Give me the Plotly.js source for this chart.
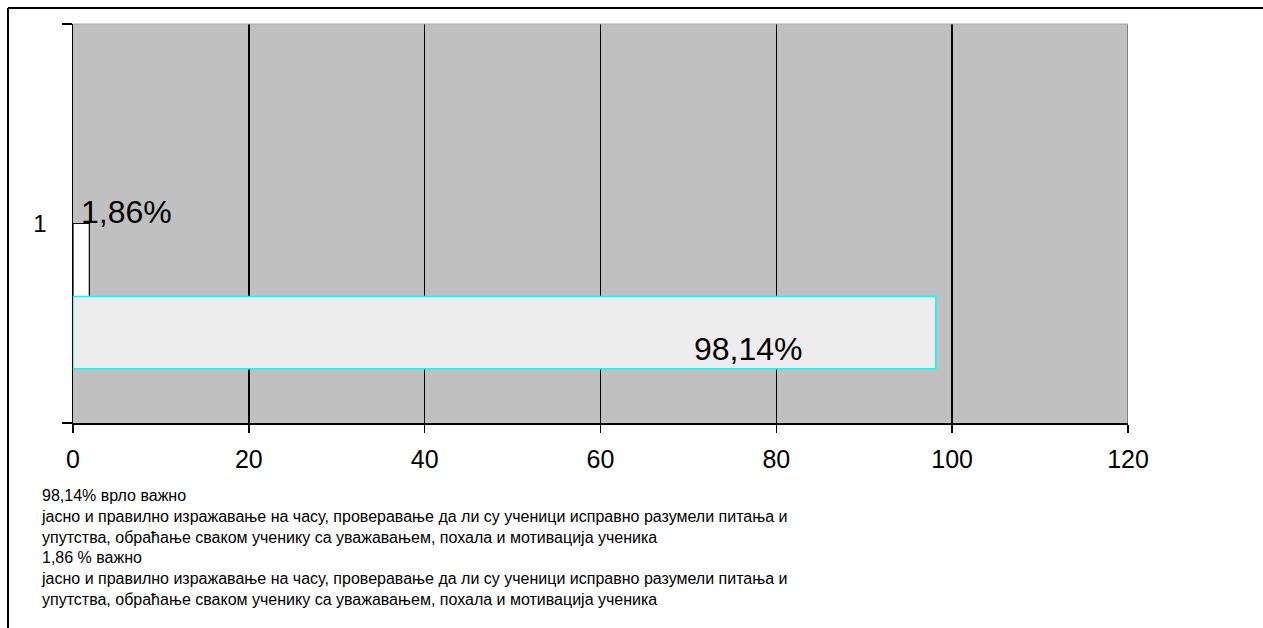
<!DOCTYPE html>
<html>
<head>
<meta charset="utf-8">
<script src="https://cdn.plot.ly/plotly-3.0.1.min.js"></script>
<style>
  html, body { margin: 0; padding: 0; background: #fff; }
  #chart { width: 1263px; height: 628px; }
</style>
</head>
<body>
<div id="chart"></div>
<script>
// ---- data ----
const categories = ["1"];
const seriesNames = ["1,86 % важно", "98,14% врло важно"];
const valuesImportant = [1.86];
const valuesVeryImportant = [98.14];
const valueLabels = ["1,86%", "98,14%"];
const xTickVals = [0, 20, 40, 60, 80, 100, 120];
const legendLines = [
  "98,14% врло важно",
  "јасно и правилно изражавање на часу, проверавање да ли су ученици исправно разумели питања и",
  "упутства, обраћање сваком ученику са уважавањем, похала и мотивација ученика",
  "1,86 % важно",
  "јасно и правилно изражавање на часу, проверавање да ли су ученици исправно разумели питања и",
  "упутства, обраћање сваком ученику са уважавањем, похала и мотивација ученика"
];

const FONT = "Liberation Sans, Arial, sans-serif";

const traces = [
  {
    type: "bar", orientation: "h", name: seriesNames[0],
    y: categories, x: valuesImportant,
    offset: -0.183, width: 0.183,
    marker: { color: "#FFFFFF", line: { color: "#000000", width: 1.2 } },
    hoverinfo: "x"
  },
  {
    type: "bar", orientation: "h", name: seriesNames[1],
    y: categories, x: valuesVeryImportant,
    offset: -0.364, width: 0.181,
    marker: { color: "#EDEDED", line: { color: "#00FFFF", width: 1.5 } },
    hoverinfo: "x"
  }
];

const layout = {
  width: 1263, height: 628,
  margin: { l: 73, r: 135, t: 24, b: 205, pad: 0 },
  paper_bgcolor: "#FFFFFF",
  plot_bgcolor: "#C0C0C0",
  showlegend: false,
  barmode: "overlay",
  font: { family: FONT, color: "#000000" },
  xaxis: {
    range: [0, 120], tickvals: xTickVals, ticktext: xTickVals.map(String),
    showgrid: true, gridcolor: "#000000", gridwidth: 1.5,
    showline: true, linecolor: "#000000", linewidth: 1.5,
    ticks: "outside", ticklen: 8, tickwidth: 1.5, tickcolor: "#000000",
    tickfont: { size: 25, family: FONT, color: "#000000" },
    ticklabelstandoff: 5,
    zeroline: false, fixedrange: true
  },
  yaxis: {
    type: "category", range: [-0.5, 0.5],
    showgrid: false,
    showline: true, linecolor: "#000000", linewidth: 1.5,
    ticks: "outside", ticklen: 10, tickwidth: 1.5, tickcolor: "#000000",
    tickson: "boundaries",
    tickfont: { size: 24, family: FONT, color: "#000000" },
    ticklabelstandoff: 20,
    zeroline: false, fixedrange: true
  },
  annotations: [
    {
      x: valuesImportant[0], y: 0.029, xref: "x", yref: "y",
      text: valueLabels[0], showarrow: false,
      xanchor: "left", yanchor: "middle", xshift: -10,
      font: { size: 32, family: FONT, color: "#000000" }
    },
    {
      x: valuesVeryImportant[0], y: -0.315, xref: "x", yref: "y",
      text: valueLabels[1], showarrow: false,
      xanchor: "right", yanchor: "middle", xshift: -131,
      font: { size: 32, family: FONT, color: "#000000" }
    },
    {
      x: (39 - 73) / 1055, y: (423 - 485) / 399, xref: "paper", yref: "paper",
      text: legendLines.join("<br>"), showarrow: false,
      xanchor: "left", yanchor: "top", align: "left",
      font: { size: 16, family: FONT, color: "#000000" }
    }
  ],
  shapes: [
    { type: "line", xref: "x", yref: "paper", x0: 120, x1: 120, y0: 0, y1: 1,
      line: { color: "#808080", width: 2 } },
    { type: "line", xref: "paper", yref: "paper", x0: 0, x1: 1, y0: 1, y1: 1,
      line: { color: "#A8A8A8", width: 1 } },
    { type: "line", xref: "paper", yref: "paper",
      x0: (8 - 73) / 1055, x1: (8 - 73) / 1055, y0: (423 - 640) / 399, y1: (423 - 8) / 399,
      line: { color: "#000000", width: 2 } },
    { type: "line", xref: "paper", yref: "paper",
      x0: (8 - 73) / 1055, x1: (1275 - 73) / 1055, y0: (423 - 8) / 399, y1: (423 - 8) / 399,
      line: { color: "#000000", width: 2 } }
  ]
};

Plotly.newPlot("chart", traces, layout, { displayModeBar: false, staticPlot: true });
</script>
</body>
</html>
